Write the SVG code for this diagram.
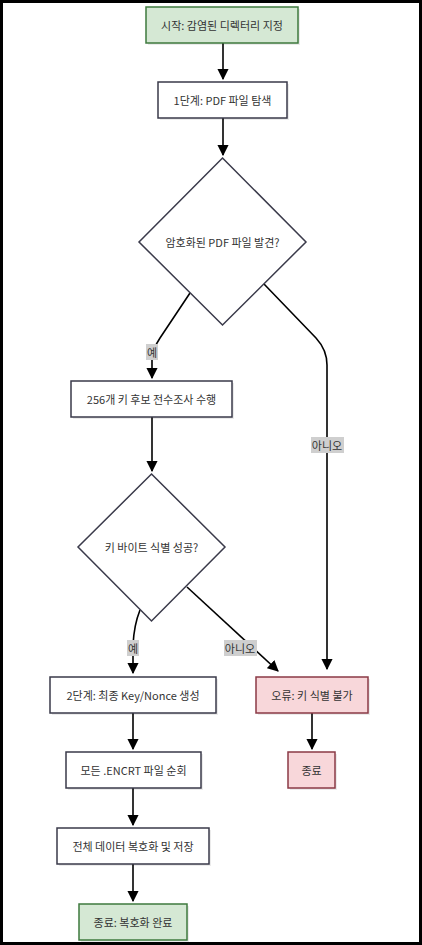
<svg xmlns="http://www.w3.org/2000/svg" width="422" height="945" viewBox="0 0 422 945">
<style>
text{font-family:"Noto Sans CJK KR","Noto Sans",sans-serif;font-size:11px;fill:#333;text-anchor:middle;dominant-baseline:central}
.box{fill:#fff;stroke:#3a3a4a;stroke-width:1.5}
.green{fill:#d5e8d4;stroke:#3e7a3e;stroke-width:1.5}
.red{fill:#f8d7da;stroke:#8b3a46;stroke-width:1.5}
.sh{fill:#000;opacity:0.08}
.edge{fill:none;stroke:#000;stroke-width:1.6}
.lbl{fill:#cfcfcf}
</style>
<defs>
<marker id="arr" viewBox="0 0 10 10" refX="9" refY="5" markerWidth="7" markerHeight="7" orient="auto-start-reverse">
<path d="M0,0 L10,5 L0,10 z" fill="#000"/>
</marker>
</defs>
<rect x="0" y="0" width="422" height="945" fill="#fff"/>
<rect x="1.5" y="1.5" width="419" height="942" fill="none" stroke="#000" stroke-width="3"/>

<g id="connectors">
<path class="edge" d="M223,43 V79" marker-end="url(#arr)"/>
<path class="edge" d="M223,118 V155" marker-end="url(#arr)"/>
<path class="edge" d="M190,293 L160,338 Q152,350 152,360 V378" marker-end="url(#arr)"/>
<path class="edge" d="M264,284 L316,338 Q327,350 327,365 V669" marker-end="url(#arr)"/>
<path class="edge" d="M152,417 V471" marker-end="url(#arr)"/>
<path class="edge" d="M140,610 Q134,625 133,645 V673" marker-end="url(#arr)"/>
<path class="edge" d="M187,587 L278,671" marker-end="url(#arr)"/>
<path class="edge" d="M312,713 V749" marker-end="url(#arr)"/>
<path class="edge" d="M133,713 V749" marker-end="url(#arr)"/>
<path class="edge" d="M133,788 V825" marker-end="url(#arr)"/>
<path class="edge" d="M133,864 V901" marker-end="url(#arr)"/>
<g id="edge-labels">
<rect class="lbl" x="146" y="344" width="12" height="16"/>
<text x="152" y="352">예</text>
<rect class="lbl" x="311" y="437" width="33" height="16"/>
<text x="327" y="445">아니오</text>
<rect class="lbl" x="127" y="640" width="12" height="16"/>
<text x="133" y="648">예</text>
<rect class="lbl" x="224" y="640" width="33" height="16"/>
<text x="240" y="648">아니오</text>
</g>
</g>

<g id="start">
<rect class="sh" x="148" y="9" width="152" height="36"/>
<rect class="green" x="146" y="7" width="152" height="36"/>
<text x="222" y="25">시작: 감염된 디렉터리 지정</text>
</g>
<g id="step1">
<rect class="sh" x="160" y="84" width="129" height="36"/>
<rect class="box" x="158" y="82" width="129" height="36"/>
<text x="222.5" y="100">1단계: PDF 파일 탐색</text>
</g>
<g id="dec1">
<path class="box" d="M222.5,158 L306,242 L222.5,325 L139,242 Z"/>
<text x="222.5" y="242">암호화된 PDF 파일 발견?</text>
</g>
<g id="brute">
<rect class="sh" x="73" y="383" width="161" height="36"/>
<rect class="box" x="71" y="381" width="161" height="36"/>
<text x="151.5" y="399">256개 키 후보 전수조사 수행</text>
</g>
<g id="dec2">
<path class="box" d="M151.5,474 L225,547 L151.5,621 L78,547 Z"/>
<text x="151.5" y="547">키 바이트 식별 성공?</text>
</g>
<g id="step2">
<rect class="sh" x="52" y="679" width="166" height="36"/>
<rect class="box" x="50" y="677" width="166" height="36"/>
<text x="133" y="695">2단계: 최종 Key/Nonce 생성</text>
</g>
<g id="error">
<rect class="sh" x="258" y="679" width="112" height="36"/>
<rect class="red" x="256" y="677" width="112" height="36"/>
<text x="312" y="695">오류: 키 식별 불가</text>
</g>
<g id="errend">
<rect class="sh" x="290" y="754" width="47" height="36"/>
<rect class="red" x="288" y="752" width="47" height="36"/>
<text x="311.5" y="770">종료</text>
</g>
<g id="iterate">
<rect class="sh" x="68" y="754" width="135" height="36"/>
<rect class="box" x="66" y="752" width="135" height="36"/>
<text x="133.5" y="770">모든 .ENCRT 파일 순회</text>
</g>
<g id="decrypt">
<rect class="sh" x="59" y="830" width="152" height="36"/>
<rect class="box" x="57" y="828" width="152" height="36"/>
<text x="133" y="846">전체 데이터 복호화 및 저장</text>
</g>
<g id="end">
<rect class="sh" x="81" y="906" width="108" height="36"/>
<rect class="green" x="79" y="904" width="108" height="36"/>
<text x="133" y="922">종료: 복호화 완료</text>
</g>
</svg>
